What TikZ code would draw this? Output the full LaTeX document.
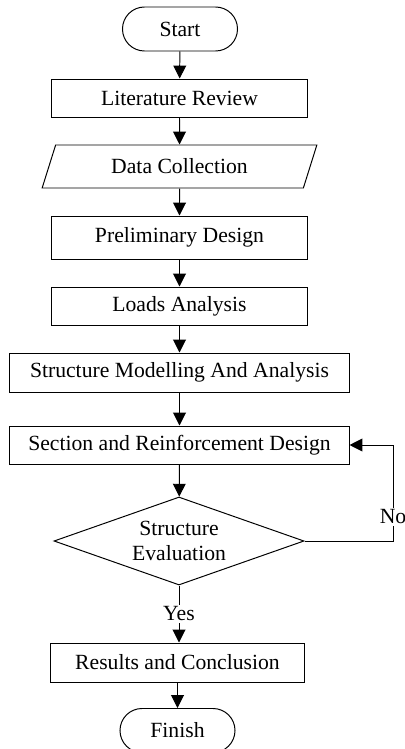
\documentclass[tikz,border=0pt]{standalone}
\usepackage{fontspec}
\setmainfont{Liberation Serif}
\usepackage{xcolor}
\usepackage{tikz}
\usetikzlibrary{shapes.geometric, arrows.meta, positioning}
\definecolor{linecolor}{HTML}{000000}
\definecolor{pagebg}{HTML}{FFFFFF}
\tikzstyle{startstop} = [rectangle, rounded corners=0.55cm, minimum width=2.875cm, minimum height=1.1cm, text centered, draw=linecolor, fill=pagebg]
\tikzstyle{process} = [rectangle, minimum width=6.375cm, minimum height=0.95cm, text centered, draw=linecolor, fill=pagebg]
\tikzstyle{io} = [trapezium, trapezium left angle=64, trapezium right angle=116, trapezium stretches=true, minimum width=6.875cm, minimum height=1.075cm, inner sep=0pt, text centered, draw=linecolor, fill=pagebg]
\tikzstyle{decision} = [diamond, aspect=2.8, minimum width=6.25cm, minimum height=2.2cm, inner sep=0pt, text centered, align=center, draw=linecolor, fill=pagebg]
\tikzstyle{arrow} = [line width=0.7pt, -{Triangle[length=0.32cm, width=0.32cm]}, color=linecolor]

\begin{document}
\begin{tikzpicture}[x=0.025cm, y=-0.025cm, line width=0.7pt, every node/.style={font=\fontsize{15.4pt}{18pt}\selectfont}]
    \useasboundingbox (0,0) rectangle (404,749);

    \node[startstop] (start) at (180,29) {Start};
    \node[process] (litreview) at (179.5,98) {Literature Review};
    \node[io] (datacoll) at (179.5,166.5) {Data Collection};
    \node[process, minimum height=1.075cm] (prelim) at (179.5,237.5) {Preliminary Design};
    \node[process] (loads) at (179.5,306) {Loads Analysis};
    \node[process, minimum width=8.475cm, minimum height=0.975cm] (modelling) at (179.5,372.5) {Structure Modelling And Analysis};
    \node[process, minimum width=8.475cm] (section) at (179.5,445) {Section and Reinforcement Design};
    \node[decision] (evaluation) at (179,541) {Structure\\Evaluation};
    \node[process, minimum width=6.325cm, minimum height=0.975cm] (results) at (177.5,662.5) {Results and Conclusion};
    \node[startstop] (finish) at (177.5,730.5) {Finish};
    \coordinate (noloop) at (393,541);

    \draw[arrow] (start) -- (litreview);
    \draw[arrow] (litreview) -- (datacoll);
    \draw[arrow] (datacoll) -- (prelim);
    \draw[arrow] (prelim) -- (loads);
    \draw[arrow] (loads) -- (modelling);
    \draw[arrow] (modelling) -- (section);
    \draw[arrow] (section) -- (evaluation);
    \draw[arrow] (evaluation.south) -- node[fill=pagebg, inner sep=1pt] {Yes} (evaluation.south |- results.north);
    \draw[arrow] (results.south -| finish) -- (finish);
    \draw[arrow] (evaluation.east) -- (noloop) |- node[pos=0.125, fill=pagebg, inner sep=1pt] {No} (section.east);
\end{tikzpicture}
\end{document}
